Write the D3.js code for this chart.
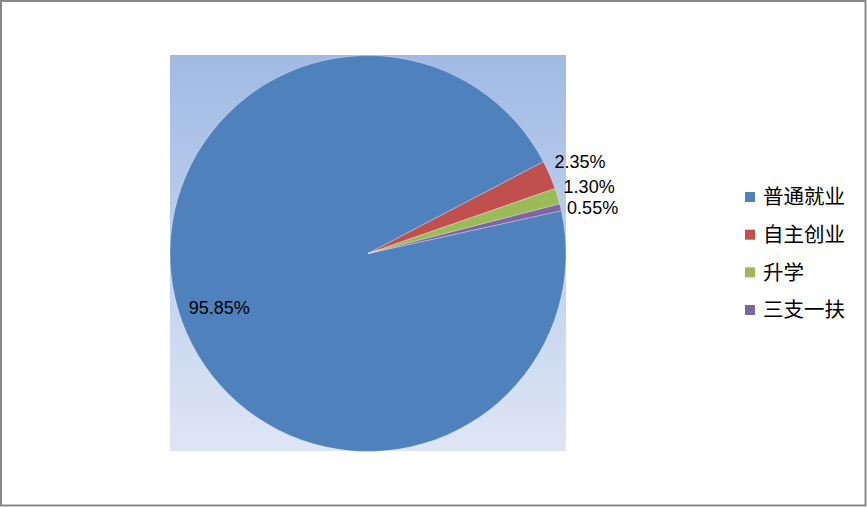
<!DOCTYPE html>
<html><head><meta charset="utf-8">
<script src="https://cdn.jsdelivr.net/npm/d3@7"></script>
<style>html,body{margin:0;padding:0;background:#fff;}svg{display:block;}</style>
</head><body>
<script>
const categories = ["普通就业", "自主创业", "升学", "三支一扶"];
const values = [95.85, 2.35, 1.30, 0.55];
const labels = ["95.85%", "2.35%", "1.30%", "0.55%"];
const colors = ["#4f81bd", "#c0504d", "#9bbb59", "#8064a2"];

const W = 867, H = 507;
const svg = d3.select("body").append("svg").attr("width", W).attr("height", H);

// outer border
svg.append("rect").attr("x", 1).attr("y", 1).attr("width", 864.5).attr("height", 504.5)
  .attr("fill", "#fff").attr("stroke", "#878787").attr("stroke-width", 2);

// plot area
const plot = {x: 170, y: 55, w: 396, h: 396};
const defs = svg.append("defs");
const grad = defs.append("linearGradient").attr("id", "bg").attr("x1", 0).attr("y1", 0).attr("x2", 0).attr("y2", 1);
grad.append("stop").attr("offset", "0%").attr("stop-color", "#a0bae4");
grad.append("stop").attr("offset", "100%").attr("stop-color", "#dee6f5");
svg.append("rect").attr("x", plot.x).attr("y", plot.y).attr("width", plot.w).attr("height", plot.h)
  .attr("fill", "url(#bg)");

const cx = plot.x + plot.w / 2, cy = plot.y + plot.h / 2 + 0.5, r = 198;
const start = 77.5 * Math.PI / 180;
const pie = d3.pie().sort(null).value(d => d).startAngle(start).endAngle(start + 2 * Math.PI);
const arcs = pie(values);
const arc = d3.arc().innerRadius(0).outerRadius(r);
const g = svg.append("g").attr("transform", `translate(${cx},${cy})`);
g.selectAll("path.slice").data(arcs).join("path").attr("class", "slice")
  .attr("d", arc).attr("fill", (d, i) => colors[i])
  .attr("stroke", "#ffffff").attr("stroke-width", 0.5).attr("stroke-opacity", 0.6);

// label positions: big slice inside, small slices outside, stacked clockwise to avoid overlap
const inner = d3.arc().innerRadius(r * 0.8).outerRadius(r * 0.8);
const outer = d3.arc().innerRadius(231).outerRadius(231);
const pos = arcs.map((d, i) => (i === 0 ? inner : outer).centroid(d));
const minGap = 21;
for (let i = 2; i < pos.length; i++) {
  if (pos[i][1] - pos[i - 1][1] < minGap) pos[i][1] = pos[i - 1][1] + minGap;
}
g.selectAll("text.lbl").data(arcs).join("text").attr("class", "lbl")
  .attr("transform", (d, i) => `translate(${pos[i]})`)
  .attr("text-anchor", "middle").attr("dy", "0.35em")
  .attr("font-family", "'Liberation Sans', Arial, sans-serif").attr("font-size", 18)
  .attr("fill", "#000").text((d, i) => labels[i]);

// legend
const ly = d3.scalePoint().domain(categories).range([197, 310]);
const leg = svg.append("g");
const items = leg.selectAll("g").data(categories).join("g")
  .attr("transform", d => `translate(745,${ly(d)})`);
items.append("rect").attr("x", 0).attr("y", -5).attr("width", 10).attr("height", 10)
  .attr("fill", (d, i) => colors[i]);
items.append("text").attr("x", 18).attr("dy", "0.36em")
  .attr("font-family", "'Noto Sans CJK SC', sans-serif").attr("font-size", 20.5)
  .attr("fill", "#000").text(d => d);
</script>
</body></html>
